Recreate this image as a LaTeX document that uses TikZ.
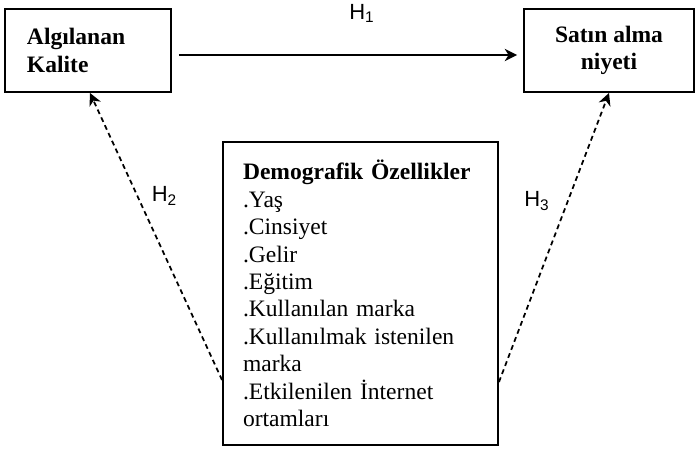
\documentclass[tikz,border=0pt]{standalone}
\usepackage{fontspec}
\setmainfont{Liberation Serif}
\newfontfamily\hfont{Liberation Sans}
\usepackage{tikz}
\usetikzlibrary{arrows.meta}

\begin{document}
\begin{tikzpicture}[
  box/.style={draw, line width=1.1pt, inner ysep=0pt, font=\fontsize{13.4}{15.6}\selectfont},
  title/.style={box, font=\fontsize{13.4}{15.6}\selectfont\bfseries},
  hyp/.style={font=\hfont\fontsize{12.5}{14}\selectfont},
  flow/.style={line width=1.1pt, -{Stealth[length=7pt,width=7pt,inset=2.2pt]}},
  dflow/.style={line width=1pt, dash pattern=on 2.8pt off 2.1pt, -{Stealth[length=7pt,width=7pt,inset=2.2pt]}}]
  \useasboundingbox (0,0) rectangle (13.9,-9);
  \node[title, align=left, text width=2.44cm, inner xsep=0.44cm, minimum height=1.66cm] (AK) at (1.76,-1.01) {Algılanan\\Kalite};
  \node[title, align=center, minimum width=3.4cm, minimum height=1.66cm] (SN) at (12.18,-1.01) {Satın alma\\niyeti};
  \node[box, align=left, text width=4.7cm, inner xsep=0.4cm, minimum height=6.06cm] (DO) at (7.21,-5.87)
    {\textbf{Demografik Özellikler}\\.Yaş\\.Cinsiyet\\.Gelir\\.Eğitim\\.Kullanılan marka\\.Kullanılmak istenilen\\marka\\.Etkilenilen İnternet\\ortamları};
  \node[hyp] (H1) at (7.24,-0.27) {H\textsubscript{1}};
  \node[hyp] (H2) at (3.29,-3.92) {H\textsubscript{2}};
  \node[hyp] (H3) at (10.74,-4.02) {H\textsubscript{3}};
  \draw[flow, shorten <=0.14cm, shorten >=0.12cm] ([yshift=-0.09cm]AK.east) -- ([yshift=-0.09cm]SN.west);
  \draw[dflow] ([yshift=-1.73cm]DO.west) -- ([xshift=0.04cm]AK.south);
  \draw[dflow] ([yshift=-1.77cm]DO.east) -- (SN.south);
\end{tikzpicture}
\end{document}
